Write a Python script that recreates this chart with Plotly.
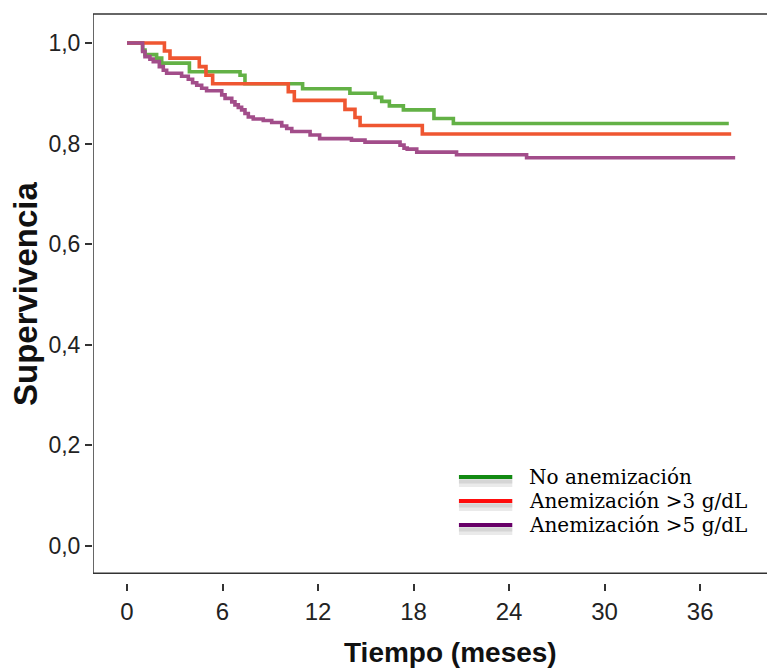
import plotly.graph_objects as go

# ---- data (Kaplan-Meier step points) ----
t_no = [0, 0.98, 1.13, 1.86, 2.18, 3.92, 7.10, 7.41, 11.03, 14.0, 15.58, 16.0, 16.48, 17.36, 19.28, 20.5, 37.8]
s_no = [1.0, 0.986, 0.977, 0.970, 0.960, 0.943, 0.936, 0.919, 0.909, 0.900, 0.892, 0.884, 0.875, 0.867, 0.850, 0.840, 0.840]

t_3 = [0, 2.35, 2.70, 4.54, 4.96, 5.38, 10.13, 10.51, 13.69, 14.32, 14.64, 18.55, 37.95]
s_3 = [1.0, 0.984, 0.970, 0.953, 0.936, 0.919, 0.903, 0.886, 0.868, 0.852, 0.836, 0.819, 0.819]

t_5 = [0, 0.98, 1.13, 1.44, 1.65, 2.03, 2.28, 2.49, 3.43, 3.85, 4.12, 4.38, 4.69, 5.0, 5.95,
       6.16, 6.58, 6.78, 6.99, 7.2, 7.41, 7.62, 7.93, 8.56, 9.09, 9.72, 10.03, 10.35, 11.5,
       12.1, 14.1, 14.95, 17.15, 17.4, 17.6, 18.2, 20.7, 25.1, 38.2]
s_5 = [1.0, 0.983, 0.973, 0.968, 0.963, 0.953, 0.946, 0.940, 0.934, 0.928, 0.921, 0.916, 0.910, 0.905, 0.897,
       0.890, 0.883, 0.877, 0.872, 0.867, 0.860, 0.853, 0.849, 0.846, 0.842, 0.835, 0.830, 0.824, 0.817,
       0.810, 0.807, 0.803, 0.797, 0.791, 0.789, 0.783, 0.778, 0.772, 0.772]

series_names = ["No anemización", "Anemización >3 g/dL", "Anemización >5 g/dL"]
curve_colors = ["#63b146", "#ef5631", "#a24d8a"]
legend_colors = ["#128a12", "#ff0d0d", "#680068"]

x_ticks = [0, 6, 12, 18, 24, 30, 36]
y_ticks = [0.0, 0.2, 0.4, 0.6, 0.8, 1.0]

fig = go.Figure()
for t, s, c, n in zip([t_no, t_3, t_5], [s_no, s_3, s_5], curve_colors, series_names):
    fig.add_trace(go.Scatter(x=t, y=s, mode="lines", line=dict(color=c, width=3.6, shape="hv"),
                             name=n, showlegend=False))

X0, X1 = -2.136, 40.2
Y0, Y1 = -0.0736, 1.0577
YB = -0.054
frame = "#333333"
# frame lines
fig.add_shape(type="line", xref="x", yref="y", x0=X0, x1=X1, y0=YB, y1=YB, line=dict(color=frame, width=1.5))
fig.add_shape(type="line", xref="x", yref="paper", x0=X0, x1=X0, y0=(YB - Y0) / (Y1 - Y0), y1=1, line=dict(color=frame, width=1.5))
fig.add_shape(type="line", xref="x", yref="paper", x0=X0, x1=X1, y0=1, y1=1, line=dict(color=frame, width=1.5))

# custom legend
leg_y = [0.137, 0.0895, 0.0418]
for yy, c, n in zip(leg_y, legend_colors, series_names):
    fig.add_shape(type="line", xref="x", yref="y", x0=20.85, x1=24.2, y0=yy - 0.012, y1=yy - 0.012,
                  line=dict(color="rgba(160,160,160,0.22)", width=8))
    fig.add_shape(type="line", xref="x", yref="y", x0=20.85, x1=24.2, y0=yy - 0.009, y1=yy - 0.009,
                  line=dict(color="rgba(150,150,150,0.25)", width=4))
    fig.add_shape(type="line", xref="x", yref="y", x0=20.85, x1=24.2, y0=yy, y1=yy,
                  line=dict(color=c, width=4))
    fig.add_annotation(x=25.1, y=yy, xref="x", yref="y", text=n, showarrow=False, xanchor="left",
                       yanchor="middle", font=dict(family="DejaVu Serif", size=20, color="#000000"))

# axis titles
fig.add_annotation(x=(450 - 93) / 674, y=(583 - 652) / 569, xref="paper", yref="paper",
                   text="<b>Tiempo (meses)</b>", showarrow=False, xanchor="center", yanchor="middle",
                   font=dict(family="Liberation Sans", size=28, color="#111111"))
fig.add_annotation(x=(25 - 93) / 674, y=(583 - 294) / 569, xref="paper", yref="paper",
                   text="<b>Supervivencia</b>", showarrow=False, xanchor="center", yanchor="middle",
                   textangle=-90, font=dict(family="Liberation Sans", size=33, color="#111111"))

fig.update_layout(
    width=767, height=668,
    margin=dict(l=93, r=0, t=14, b=85),
    plot_bgcolor="white", paper_bgcolor="white",
    separators=",.",
    showlegend=False,
    xaxis=dict(range=[X0, X1], tickvals=x_ticks, ticks="outside", ticklen=7, tickwidth=1.5, tickcolor=frame,
               showline=False, showgrid=False, zeroline=False,
               tickfont=dict(family="Liberation Sans", size=24, color="#222222")),
    yaxis=dict(range=[Y0, Y1], tickvals=y_ticks, tickformat=".1f", ticks="outside", ticklen=7, tickwidth=1.5,
               tickcolor=frame, showline=False, showgrid=False, zeroline=False,
               tickfont=dict(family="Liberation Sans", size=23, color="#222222")),
)

fig.write_html("out.html")
